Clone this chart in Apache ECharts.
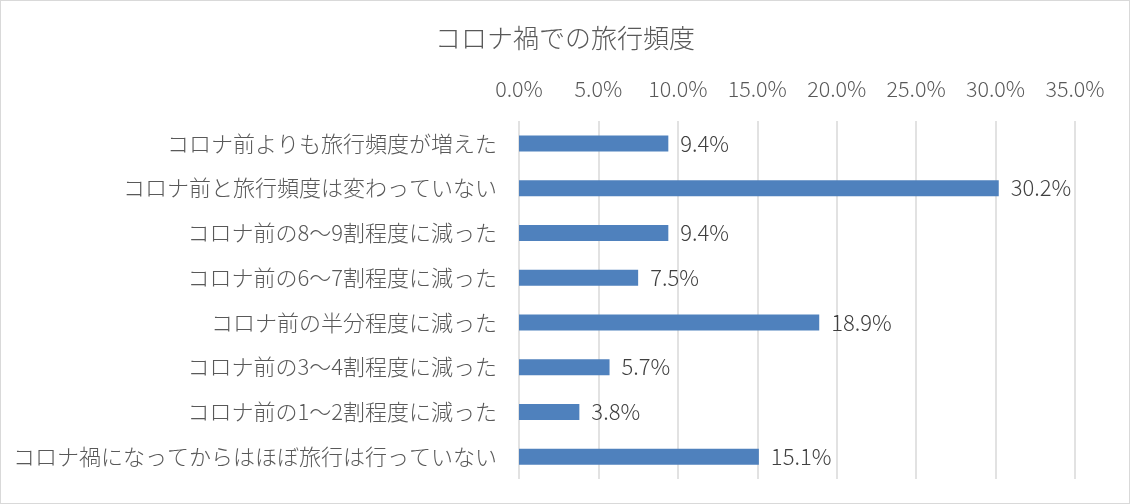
<!DOCTYPE html>
<html>
<head>
<meta charset="utf-8">
<script src="https://cdn.jsdelivr.net/npm/echarts@6/dist/echarts.min.js"></script>
<style>
html,body{margin:0;padding:0;background:#fff;}
#c{width:1130px;height:504px;box-sizing:border-box;border:1px solid #d9d9d9;}
</style>
</head>
<body>
<div id="c"></div>
<script>
const titleText = 'コロナ禍での旅行頻度';
const categories = [
  'コロナ前よりも旅行頻度が増えた',
  'コロナ前と旅行頻度は変わっていない',
  'コロナ前の8～9割程度に減った',
  'コロナ前の6～7割程度に減った',
  'コロナ前の半分程度に減った',
  'コロナ前の3～4割程度に減った',
  'コロナ前の1～2割程度に減った',
  'コロナ禍になってからはほぼ旅行は行っていない'
];
const values = [9.4, 30.2, 9.4, 7.5, 18.9, 5.7, 3.8, 15.1];
const axisMin = 0, axisMax = 35, axisStep = 5;

const font = '"Noto Sans CJK JP", "Noto Sans", sans-serif';
const chart = echarts.init(document.getElementById('c'));
chart.setOption({
  animation: false,
  backgroundColor: '#fff',
  title: {
    text: titleText,
    left: 'center',
    top: 19,
    textStyle: {fontFamily: font, fontSize: 26, fontWeight: 300, color: '#595959'}
  },
  grid: {left: 518, right: 54, top: 120, bottom: 24, containLabel: false},
  xAxis: {
    type: 'value',
    position: 'top',
    min: axisMin, max: axisMax, interval: axisStep,
    axisLine: {show: false},
    axisTick: {show: false},
    axisLabel: {
      formatter: v => v.toFixed(1) + '%',
      fontFamily: font, fontSize: 21.5, fontWeight: 300, color: '#595959', margin: 21
    },
    splitLine: {show: true, lineStyle: {color: '#d9d9d9', width: 1.5}}
  },
  yAxis: {
    type: 'category',
    data: categories,
    inverse: true,
    axisLine: {show: false},
    axisTick: {show: false},
    axisLabel: {fontFamily: font, fontSize: 22, fontWeight: 300, color: '#595959', margin: 22}
  },
  series: [{
    type: 'bar',
    data: values,
    barWidth: 16,
    itemStyle: {color: '#4f81bd'},
    label: {
      show: true,
      position: 'right',
      distance: 12,
      formatter: p => p.value.toFixed(1) + '%',
      fontFamily: font, fontSize: 22, fontWeight: 300, color: '#404040'
    }
  }]
});
</script>
</body>
</html>
